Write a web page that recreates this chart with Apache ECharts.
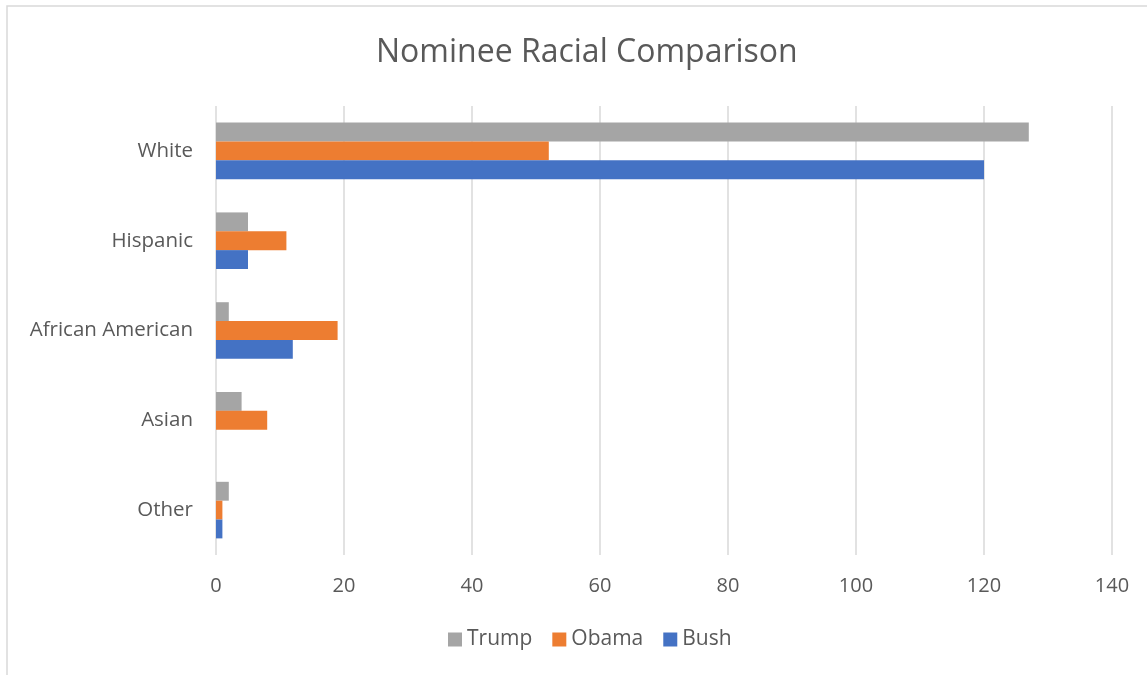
<!DOCTYPE html>
<html>
<head>
<meta charset="utf-8">
<script src="https://cdn.jsdelivr.net/npm/echarts@6/dist/echarts.min.js"></script>
<style>
  html, body { margin: 0; padding: 0; background: #fff; }
  #chart { width: 1147px; height: 675px; }
</style>
</head>
<body>
<div id="chart"></div>
<script>
// categories bottom to top (category y axis starts at the bottom)
var races = ['Other', 'Asian', 'African American', 'Hispanic', 'White'];
var trump = [2, 4, 2, 5, 127];
var obama = [1, 8, 19, 11, 52];
var bush = [1, 0, 12, 5, 120];
var xTicks = [0, 20, 40, 60, 80, 100, 120, 140];

var textColor = '#595959';
var font = 'Open Sans';

var chart = echarts.init(document.getElementById('chart'));
var option = {
  animation: false,
  textStyle: { fontFamily: font },
  title: {
    text: 'Nominee Racial Comparison',
    left: 371,
    top: 32,
    textStyle: { fontFamily: font, fontSize: 32, fontWeight: 'normal', color: textColor }
  },
  graphic: [{
    type: 'rect',
    shape: { x: 7, y: 6, width: 1200, height: 720 },
    style: { fill: null, stroke: '#d9d9d9', lineWidth: 1.5 },
    silent: true
  }],
  legend: {
    data: ['Trump', 'Obama', 'Bush'],
    bottom: 20,
    left: 443,
    itemWidth: 14,
    itemHeight: 14,
    itemGap: 20,
    icon: 'rect',
    textStyle: { fontFamily: font, fontSize: 21, color: textColor }
  },
  grid: { left: 216, right: 35, top: 106, bottom: 120, containLabel: false },
  xAxis: {
    type: 'value',
    min: 0,
    max: xTicks[xTicks.length - 1],
    interval: 20,
    axisLine: { show: false },
    axisTick: { show: false },
    axisLabel: { fontFamily: font, fontSize: 20, color: textColor, margin: 21 },
    splitLine: { lineStyle: { color: '#d9d9d9', width: 1.5 } }
  },
  yAxis: {
    type: 'category',
    data: races,
    axisLine: { show: false },
    axisTick: { show: false },
    axisLabel: { fontFamily: font, fontSize: 20.5, color: textColor, margin: 23 }
  },
  series: [
    { name: 'Trump', type: 'bar', data: trump, barGap: '0%', barCategoryGap: '37%',
      itemStyle: { color: '#a5a5a5' } },
    { name: 'Obama', type: 'bar', data: obama, barGap: '0%', barCategoryGap: '37%',
      itemStyle: { color: '#ed7d31' } },
    { name: 'Bush', type: 'bar', data: bush, barGap: '0%', barCategoryGap: '37%',
      itemStyle: { color: '#4472c4' } }
  ]
};
chart.setOption(option);
</script>
</body>
</html>
